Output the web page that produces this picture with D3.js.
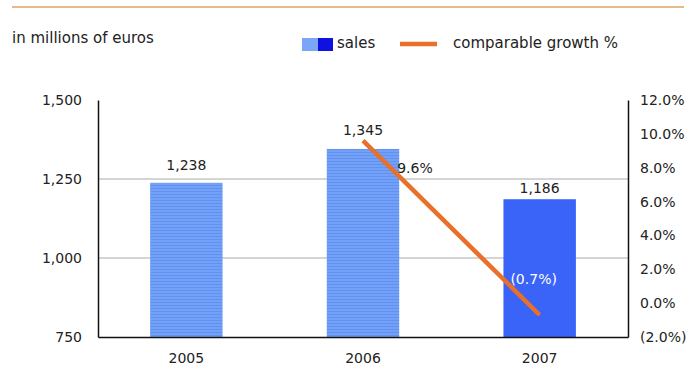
<!DOCTYPE html>
<html>
<head>
<meta charset="utf-8">
<script src="https://cdn.jsdelivr.net/npm/d3@7"></script>
<style>
  body { margin: 0; background: #fff; }
  svg { font-family: "DejaVu Sans", Verdana, sans-serif; }
</style>
</head>
<body>
<div id="chart"></div>
<script>
const years = ["2005", "2006", "2007"];
const sales = [1238, 1345, 1186];
const salesLabels = ["1,238", "1,345", "1,186"];
const growthYears = ["2006", "2007"];
const growth = [9.6, -0.7];
const growthLabels = ["9.6%", "(0.7%)"];
const leftTicks = [750, 1000, 1250, 1500];
const rightTicks = [-2, 0, 2, 4, 6, 8, 10, 12];

const width = 688, height = 370;
const margin = { top: 100, right: 60, bottom: 33, left: 98 };
const fs = 14;
const fsHead = 15;
const font = "'DejaVu Sans', Verdana, sans-serif";

const svg = d3.select("#chart").append("svg")
    .attr("width", width)
    .attr("height", height);

// striped fill for the older years
const defs = svg.append("defs");
const pat = defs.append("pattern")
    .attr("id", "stripes")
    .attr("patternUnits", "userSpaceOnUse")
    .attr("width", 4)
    .attr("height", 3);
pat.append("rect").attr("width", 4).attr("height", 3).attr("fill", "#72a2f7");
pat.append("rect").attr("y", 2).attr("width", 4).attr("height", 1).attr("fill", "#6491ef");

const x = d3.scaleBand()
    .domain(years)
    .range([margin.left, width - margin.right])
    .paddingInner(0.59)
    .paddingOuter(0.295);

const y = d3.scaleLinear()
    .domain([750, 1500])
    .range([height - margin.bottom, margin.top]);

const y2 = d3.scaleLinear()
    .domain([-2, 12])
    .range([height - margin.bottom, margin.top]);

// top rule
svg.append("line")
    .attr("x1", 12).attr("x2", 684)
    .attr("y1", 7).attr("y2", 7)
    .attr("stroke", "#dca468")
    .attr("stroke-width", 1.5);

// header text + legend
svg.append("text")
    .attr("x", 12).attr("y", 43)
    .attr("font-size", fsHead)
    .attr("fill", "#222")
    .text("in millions of euros");

const legend = svg.append("g");
legend.append("rect").attr("x", 302).attr("y", 38).attr("width", 16).attr("height", 13).attr("fill", "#7aa6f5");
legend.append("rect").attr("x", 318).attr("y", 38).attr("width", 15).attr("height", 13).attr("fill", "#1010e0");
legend.append("text").attr("x", 337).attr("y", 48).attr("font-size", fsHead).attr("fill", "#222").text("sales");
legend.append("line").attr("x1", 400).attr("x2", 437).attr("y1", 44).attr("y2", 44)
    .attr("stroke", "#e8702a").attr("stroke-width", 4.5);
legend.append("text").attr("x", 453).attr("y", 48).attr("font-size", fsHead).attr("fill", "#222").text("comparable growth %");

// gridlines
svg.append("g")
    .selectAll("line")
    .data(leftTicks.filter(d => d > 750 && d < 1500))
    .join("line")
    .attr("x1", margin.left).attr("x2", width - margin.right)
    .attr("y1", d => y(d)).attr("y2", d => y(d))
    .attr("stroke", "#aaa")
    .attr("stroke-width", 1);

// bars
svg.append("g")
    .selectAll("rect")
    .data(sales)
    .join("rect")
    .attr("x", (d, i) => x(years[i]))
    .attr("y", d => y(d))
    .attr("width", x.bandwidth())
    .attr("height", d => y(750) - y(d))
    .attr("fill", (d, i) => i === 2 ? "#3a63f7" : "url(#stripes)");

function styleAxis(g) {
    g.attr("font-family", font).attr("font-size", fs);
    g.select(".domain").attr("stroke", "#111").attr("stroke-width", 1.5);
    g.selectAll("text").attr("fill", "#222");
}

// left axis
svg.append("g")
    .attr("transform", `translate(${margin.left},0)`)
    .call(d3.axisLeft(y).tickValues(leftTicks).tickSize(0).tickPadding(16).tickFormat(d3.format(",")))
    .call(styleAxis);

// right axis
svg.append("g")
    .attr("transform", `translate(${width - margin.right},0)`)
    .call(d3.axisRight(y2).tickValues(rightTicks).tickSize(0).tickPadding(12)
        .tickFormat(d => d < 0 ? `(${Math.abs(d).toFixed(1)}%)` : `${d.toFixed(1)}%`))
    .call(styleAxis);

// bottom axis
svg.append("g")
    .attr("transform", `translate(0,${height - margin.bottom})`)
    .call(d3.axisBottom(x).tickSize(0).tickPadding(16))
    .call(styleAxis);

// growth line
const line = d3.line()
    .x((d, i) => x(growthYears[i]) + x.bandwidth() / 2)
    .y(d => y2(d));
svg.append("path")
    .datum(growth)
    .attr("d", line)
    .attr("fill", "none")
    .attr("stroke", "#e8702a")
    .attr("stroke-width", 4.5);

// bar labels
const labelOffset = [13, 14, 6];
svg.append("g")
    .selectAll("text")
    .data(sales)
    .join("text")
    .attr("x", (d, i) => x(years[i]) + x.bandwidth() / 2)
    .attr("y", (d, i) => y(d) - labelOffset[i])
    .attr("text-anchor", "middle")
    .attr("font-size", fs)
    .attr("fill", "#222")
    .text((d, i) => salesLabels[i]);

// growth labels
svg.append("text")
    .attr("x", x("2006") + x.bandwidth() / 2 + 52)
    .attr("y", y2(growth[0]) + 32)
    .attr("text-anchor", "middle")
    .attr("font-size", fs)
    .attr("fill", "#222")
    .text(growthLabels[0]);
svg.append("text")
    .attr("x", x("2007") + x.bandwidth() / 2 - 6)
    .attr("y", y2(growth[1]) - 31)
    .attr("text-anchor", "middle")
    .attr("font-size", fs)
    .attr("fill", "#fff")
    .text(growthLabels[1]);
</script>
</body>
</html>
